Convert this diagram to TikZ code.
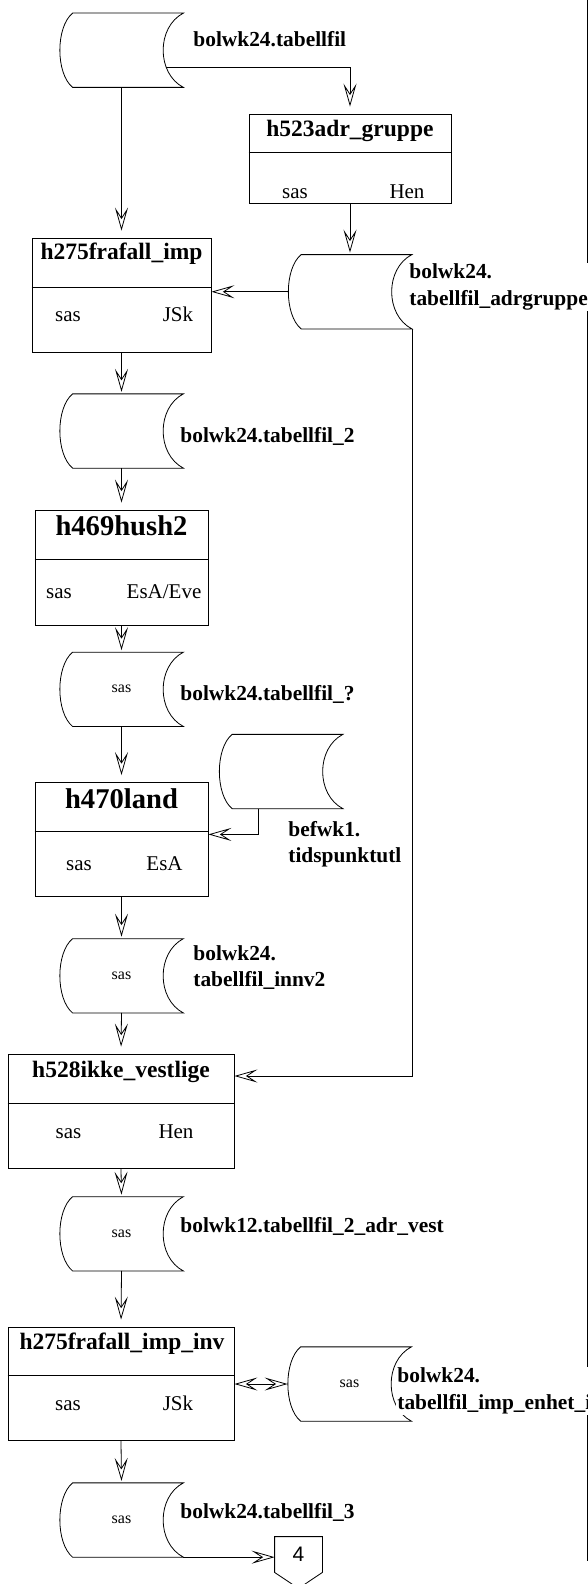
\documentclass[tikz,border=0pt]{standalone}
\usepackage{fontspec}
\setmainfont{Liberation Serif}
\newfontfamily\arialfont{Liberation Sans}
\usetikzlibrary{arrows.meta,positioning}

\begin{document}
\begin{tikzpicture}[x=1pt, y=-1pt, line width=0.8pt,
    >={Stealth[open, length=23pt, width=13pt, inset=10pt]},
    prosess/.style={draw, rectangle, inner sep=0pt},
    lager/.style={rectangle, inner sep=0pt, minimum width=123pt, minimum height=73.5pt, font=\fontsize{16}{19}\selectfont},
    tittel/.style={anchor=base, inner sep=0pt, font=\fontsize{23.5}{28}\selectfont\bfseries},
    stortittel/.style={tittel, font=\fontsize{28.6}{34}\selectfont\bfseries},
    tekst/.style={anchor=base, inner sep=0pt, font=\fontsize{21}{25}\selectfont},
    etikett/.style={anchor=base west, inner sep=0pt, font=\fontsize{21.4}{26.5}\selectfont\bfseries},
    etikett2/.style={etikett, anchor=west, align=left},
    tilboks/.style={->, shorten >=7pt},
    tillager/.style={->, shorten >=2pt}]

\useasboundingbox (0,0) rectangle (588,1584);

% Page edge
\draw (587,0) -- (587,1561);

% Data stores
\node[lager] (tab)     at (121.5,50.25) {};
\node[lager] (adrgr)   at (350,291.75) {};
\node[lager] (tab2)    at (121.5,431) {};
\node[lager] (tabq)    at (121.5,689.3) {sas};
\node[lager] (tidspkt) at (281,771.5) {};
\node[lager] (innv2)   at (121.5,975.8) {sas};
\node[lager] (adrvest) at (121.5,1233.8) {sas};
\node[lager] (enhet)   at (349.5,1384) {sas};
\node[lager] (tab3)    at (121.5,1520) {sas};

\foreach \s in {tab,adrgr,tab2,tabq,tidspkt,innv2,adrvest,enhet,tab3}
  \draw ([xshift=13pt]\s.north west) .. controls ([xshift=-4pt,yshift=-14pt]\s.north west) and ([xshift=-4pt,yshift=14pt]\s.south west) .. ([xshift=13pt]\s.south west)
    -- (\s.south east) .. controls ([xshift=-27pt,yshift=14pt]\s.south east) and ([xshift=-27pt,yshift=-14pt]\s.north east) .. (\s.north east) -- cycle;

% Programs
\node[prosess, minimum width=202pt, minimum height=89.5pt] (h523) at (350,158.75) {};
\node[prosess, minimum width=179pt, minimum height=114pt] (h275) at (121.5,295) {};
\node[prosess, minimum width=173pt, minimum height=115pt] (h469) at (121.5,567.5) {};
\node[prosess, minimum width=173pt, minimum height=114.2pt] (h470) at (121.5,839.6) {};
\node[prosess, minimum width=226pt, minimum height=114.8pt] (h528) at (121,1111.4) {};
\node[prosess, minimum width=226pt, minimum height=113.8pt] (h275inv) at (121,1383.9) {};

\foreach \b/\d in {h523/152, h275/287, h469/559, h470/831, h528/1103, h275inv/1375.5}
  \draw (\b.west |- 0,\d) -- (\b.east |- 0,\d);

\node[tittel] (h523t) at (350,136) {h523adr\_gruppe};
\node[tekst] (h523a) at (295,198) {sas};
\node[tekst] (h523b) at (407,198) {Hen};

\node[tittel] (h275t) at (121.5,259.3) {h275frafall\_imp};
\node[tekst] (h275a) at (68,321.5) {sas};
\node[tekst] (h275b) at (178,321.5) {JSk};

\node[stortittel] (h469t) at (121.5,535) {h469hush2};
\node[tekst] (h469a) at (59,598) {sas};
\node[tekst] (h469b) at (164,598) {EsA/Eve};

\node[stortittel] (h470t) at (121.5,808.5) {h470land};
\node[tekst] (h470a) at (79,870) {sas};
\node[tekst] (h470b) at (164.5,870) {EsA};

\node[tittel] (h528t) at (121,1077) {h528ikke\_vestlige};
\node[tekst] (h528a) at (68.5,1138) {sas};
\node[tekst] (h528b) at (176,1138) {Hen};

\node[tittel] (h275invt) at (122,1349) {h275frafall\_imp\_inv};
\node[tekst] (h275inva) at (68,1410) {sas};
\node[tekst] (h275invb) at (178,1410) {JSk};

% Off-page connector
\node[inner sep=0pt, minimum width=47pt, minimum height=35pt, font=\arialfont\fontsize{21}{25}\selectfont] (side4) at (298.5,1554.5) {4};
\draw (side4.north west) -- (side4.north east) -- (side4.south east) -- ([yshift=-16pt]side4.south) -- (side4.south west) -- cycle;

% Flow
\draw[tilboks] ([shift={(-17pt,-17pt)}]tab.east) -| (h523.north);
\draw[tilboks] (tab.south) -- (h275.north);
\draw[tillager] (h523.south) -- (adrgr.north);
\draw[->] (adrgr.west) -- (h275.east |- adrgr.west);
\draw[->] (adrgr.south east) |- ([yshift=35.4pt]h528.east);
\draw[tillager] (h275.south) -- (tab2.north);
\draw[tilboks] (tab2.south) -- (h469.north);
\draw[tillager] (h469.south) -- (tabq.north);
\draw[tilboks] (tabq.south) -- (h470.north);
\draw[->] ([xshift=-23pt]tidspkt.south) |- ([yshift=5.2pt]h470.east);
\draw[tillager] (h470.south) -- (innv2.north);
\draw[tilboks] (innv2.south) -- (h528.north);
\draw[tillager] (h528.south) -- (adrvest.north);
\draw[tilboks] (adrvest.south) -- (h275inv.north);
\draw[<->] (h275inv.east |- enhet.west) -- (enhet.west);
\draw[tillager] (h275inv.south) -- (tab3.north);
\draw[->] (tab3.south east) -- (side4.west |- tab3.south east);

% Labels
\node[etikett] (tabl) at (193,47) {bolwk24.tabellfil};
\node[etikett2, fill=white, inner sep=1pt] (adrgrl) at (408,287) {bolwk24.\\tabellfil\_adrgruppe};
\node[etikett] (tab2l) at (180,442) {bolwk24.tabellfil\_2};
\node[etikett] (tabql) at (180,700.4) {bolwk24.tabellfil\_?};
\node[etikett2] (tidspktl) at (288,844) {befwk1.\\tidspunktutl};
\node[etikett2] (innv2l) at (193,967.7) {bolwk24.\\tabellfil\_innv2};
\node[etikett] (adrvestl) at (180,1232.5) {bolwk12.tabellfil\_2\_adr\_vest};
\node[etikett2, fill=white, inner sep=1pt] (enhetl) at (396,1390.7) {bolwk24.\\tabellfil\_imp\_enhet\_i};
\node[etikett] (tab3l) at (180,1518) {bolwk24.tabellfil\_3};

\end{tikzpicture}
\end{document}
